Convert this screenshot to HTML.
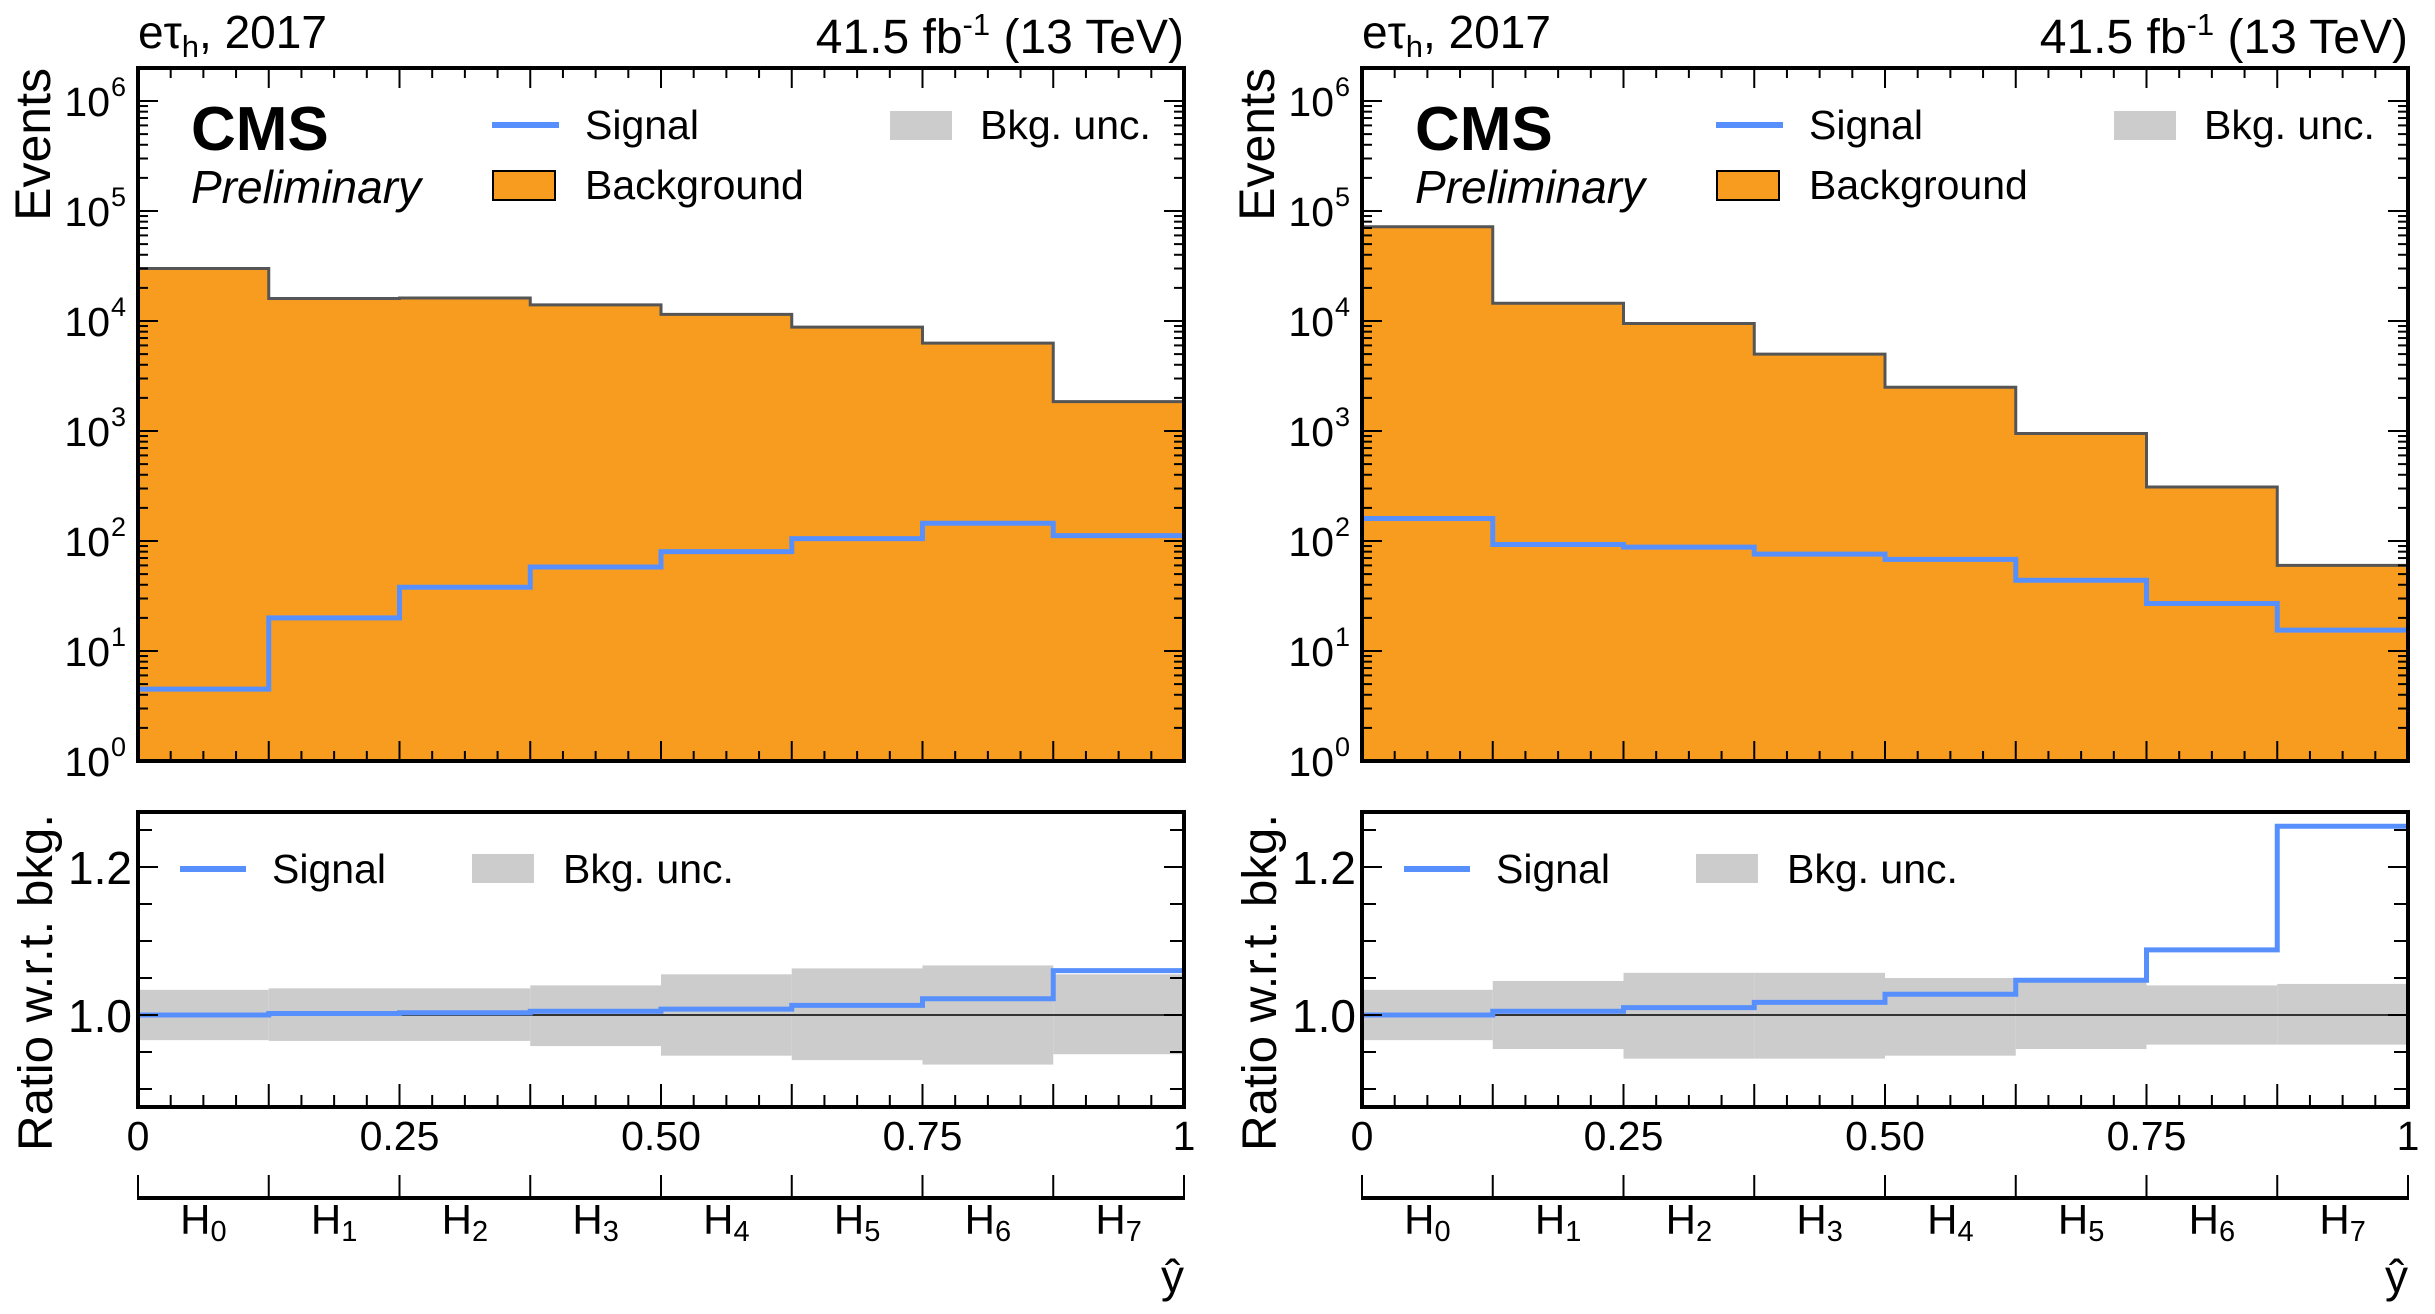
<!DOCTYPE html>
<html><head><meta charset="utf-8">
<style>
html,body{margin:0;padding:0;background:#fff;}
svg{display:block;font-family:"Liberation Sans",Arial,sans-serif;}
</style></head>
<body>
<svg id="fig" width="2435" height="1314" viewBox="0 0 2435 1314" xmlns="http://www.w3.org/2000/svg"></svg>
<script>
// ---- data ----
const binLabels = ["H0","H1","H2","H3","H4","H5","H6","H7"];
const xTickLabels = ["0","0.25","0.50","0.75","1"];
const xTickValues = [0,0.25,0.5,0.75,1];
const logTickExps = [0,1,2,3,4,5,6];
const ratioTickLabels = ["1.0","1.2"];
const ratioTickValues = [1.0,1.2];
const bkgLeft = [30000,16000,16200,14000,11500,8800,6300,1850];
const sigLeft = [4.5,20,38,58,80,105,145,112];
const bkgRight = [72000,14500,9500,5000,2500,950,310,60];
const sigRight = [160,93,88,76,68,44,27,15.5];
const ratioSigLeft = [1.0,1.002,1.003,1.005,1.008,1.013,1.022,1.06];
const uncUpLeft = [0.034,0.036,0.036,0.04,0.055,0.063,0.067,0.055];
const uncDnLeft = [0.034,0.035,0.035,0.042,0.055,0.061,0.067,0.053];
const ratioSigRight = [1.0,1.005,1.01,1.017,1.028,1.047,1.088,1.255];
const uncUpRight = [0.034,0.046,0.057,0.057,0.05,0.044,0.04,0.042];
const uncDnRight = [0.034,0.046,0.059,0.059,0.055,0.046,0.04,0.04];

const NS="http://www.w3.org/2000/svg";
const svg=document.getElementById('fig');
function mk(tag,attrs,parent){const e=document.createElementNS(NS,tag);for(const k in attrs)e.setAttribute(k,attrs[k]);(parent||svg).appendChild(e);return e;}

const TOP=68, BOT=761, RTOP=812, RBOT=1107, W=1046;
const yLog=v=>BOT-110*Math.log10(v);
const yR=v=>1015-(v-1)*740;

function panel(x0, bkg, sig, rsig, up, dn, side){
  const xs=t=>x0+t*W;
  const nb=bkg.length, bw=W/nb;
  const g=mk('g',{});
  
  
  const t1=mk('text',{x:x0,y:48,'font-size':46},g);
  
  
  t1.innerHTML='eτ<tspan font-size="31" dy="9">h</tspan><tspan dy="-9">, 2017</tspan>';
  const t2=mk('text',{x:x0+W,y:53,'font-size':48,'text-anchor':'end'},g);
  
  
  t2.innerHTML='41.5 fb<tspan font-size="31" dy="-18">-1</tspan><tspan dy="18"> (13 TeV)</tspan>';
  let d=`M${x0},${BOT}`;
  for(let i=0;i<nb;i++){d+=` L${x0+i*bw},${yLog(bkg[i])} L${x0+(i+1)*bw},${yLog(bkg[i])}`;}
  d+=` L${x0+W},${BOT} Z`;
  const bp=mk('path',{d:d,fill:'#f89c20',stroke:'none'},g);
  
  
  let od='';
  for(let i=0;i<nb;i++){od+=(i?' L':'M')+`${x0+i*bw},${yLog(bkg[i])} L${x0+(i+1)*bw},${yLog(bkg[i])}`;}
  const ol=mk('path',{d:od,fill:'none',stroke:'#555',"stroke-width":3},g);
  
  
  let sd='';
  for(let i=0;i<nb;i++){sd+=(i?' L':'M')+`${x0+i*bw},${yLog(sig[i])} L${x0+(i+1)*bw},${yLog(sig[i])}`;}
  const sp=mk('path',{d:sd,fill:'none',stroke:'#5790fc',"stroke-width":5},g);
  
  
  for(const e of logTickExps){
    for(let m=1;m<10;m++){
      const v=m*Math.pow(10,e); const y=yLog(v);
      if(y<TOP+1||y>BOT) continue;
      const L=m===1?20:10;
      mk('line',{x1:x0,x2:x0+L,y1:y,y2:y,stroke:'#000','stroke-width':2},g);
      mk('line',{x1:x0+W-L,x2:x0+W,y1:y,y2:y,stroke:'#000','stroke-width':2},g);
    }
    const lab=mk('text',{x:x0-28,y:yLog(Math.pow(10,e))+15,'font-size':41,'text-anchor':'end'},g);
    
    
    lab.textContent='10';
    const sup=mk('text',{x:x0-27,y:yLog(Math.pow(10,e))-5,'font-size':27},g);
    sup.textContent=String(e);
  }
  for(let k=0;k<=32;k++){
    const x=xs(k/32); const major=k%4===0; const L=major?20:10;
    mk('line',{x1:x,x2:x,y1:TOP,y2:TOP+L,stroke:'#000','stroke-width':2},g);
    mk('line',{x1:x,x2:x,y1:BOT-L,y2:BOT,stroke:'#000','stroke-width':2},g);
    const L2=major?23:12;
    mk('line',{x1:x,x2:x,y1:RBOT-L2,y2:RBOT,stroke:'#000','stroke-width':2},g);
  }
  const fr=mk('rect',{x:x0,y:TOP,width:W,height:BOT-TOP,fill:'none',stroke:'#000','stroke-width':4},g);
  
  
  const cms=mk('text',{x:x0+53,y:150,'font-size':62,'font-weight':'bold'},g);
  
  
  cms.textContent='CMS';
  const pre=mk('text',{x:x0+53,y:203,'font-size':46,'font-style':'italic'},g);
  
  
  pre.textContent='Preliminary';
  mk('line',{x1:x0+354,x2:x0+421,y1:125,y2:125,stroke:'#5790fc','stroke-width':6},g);
  const ls=mk('text',{x:x0+447,y:139,'font-size':41},g);
  
  
  ls.textContent='Signal';
  mk('rect',{x:x0+355,y:171,width:62,height:29,fill:'#f89c20',stroke:'#000','stroke-width':2},g);
  const lb=mk('text',{x:x0+447,y:199,'font-size':41},g);
  
  
  lb.textContent='Background';
  mk('rect',{x:x0+752,y:111,width:62,height:29,fill:'#cccccc'},g);
  const lu=mk('text',{x:x0+842,y:139,'font-size':41},g);
  
  
  lu.textContent='Bkg. unc.';
  const ev=mk('text',{transform:`translate(${x0-88},${TOP}) rotate(-90)`,'font-size':50,'text-anchor':'end'},g);
  
  
  ev.textContent='Events';

  for(let i=0;i<nb;i++){
    const r=mk('rect',{x:x0+i*bw,y:yR(1+up[i]),width:bw,height:yR(1-dn[i])-yR(1+up[i]),fill:'#cccccc'},g);
    
    
  }
  mk('line',{x1:x0,x2:x0+W,y1:yR(1),y2:yR(1),stroke:'#000','stroke-width':1.5},g);
  let rd='';
  for(let i=0;i<nb;i++){rd+=(i?' L':'M')+`${x0+i*bw},${yR(rsig[i])} L${x0+(i+1)*bw},${yR(rsig[i])}`;}
  const rp=mk('path',{d:rd,fill:'none',stroke:'#5790fc',"stroke-width":5},g);
  
  
  for(let k=0;k<=7;k++){
    const v=0.9+k*0.05; const y=yR(v);
    if(y<RTOP||y>RBOT) continue;
    const L=(Math.abs(v-1)<1e-6||Math.abs(v-1.2)<1e-6)?20:14;
    mk('line',{x1:x0,x2:x0+L,y1:y,y2:y,stroke:'#000','stroke-width':2},g);
    mk('line',{x1:x0+W-L,x2:x0+W,y1:y,y2:y,stroke:'#000','stroke-width':2},g);
  }
  ratioTickValues.forEach((v,i)=>{
    const t=mk('text',{x:x0-6,y:yR(v)+17,'font-size':46,'text-anchor':'end'},g);
    
    
    t.textContent=ratioTickLabels[i];
  });
  const rf=mk('rect',{x:x0,y:RTOP,width:W,height:RBOT-RTOP,fill:'none',stroke:'#000','stroke-width':4},g);
  
  
  mk('line',{x1:x0+42,x2:x0+108,y1:869,y2:869,stroke:'#5790fc','stroke-width':6},g);
  const rl1=mk('text',{x:x0+134,y:883,'font-size':41},g);
  
  
  rl1.textContent='Signal';
  mk('rect',{x:x0+334,y:854,width:62,height:29,fill:'#cccccc'},g);
  const rl2=mk('text',{x:x0+425,y:883,'font-size':41},g);
  
  
  rl2.textContent='Bkg. unc.';
  const ry=mk('text',{transform:`translate(${x0-86},${RTOP+2}) rotate(-90)`,'font-size':48,'text-anchor':'end',textLength:337,lengthAdjust:'spacingAndGlyphs'},g);
  
  
  ry.textContent='Ratio w.r.t. bkg.';
  xTickValues.forEach((v,i)=>{
    const t=mk('text',{x:xs(v),y:1150,'font-size':41,'text-anchor':'middle'},g);
    
    
    t.textContent=xTickLabels[i];
  });
  mk('line',{x1:x0-1,x2:x0+W+1,y1:1198,y2:1198,stroke:'#000','stroke-width':4},g);
  for(let i=0;i<=nb;i++){
    mk('line',{x1:x0+i*bw,x2:x0+i*bw,y1:1175,y2:1198,stroke:'#000','stroke-width':2},g);
  }
  binLabels.forEach((lab,i)=>{
    const t=mk('text',{x:x0+(i+0.5)*bw,y:1234,'font-size':42,'text-anchor':'middle'},g);
    
    
    t.innerHTML='H<tspan font-size="29" dy="7">'+lab.slice(1)+'</tspan>';
  });
  const yh=mk('text',{x:x0+W,y:1292,'font-size':46,'text-anchor':'end'},g);
  
  
  yh.textContent='ŷ';
}
panel(138,bkgLeft,sigLeft,ratioSigLeft,uncUpLeft,uncDnLeft,'left');
panel(1362,bkgRight,sigRight,ratioSigRight,uncUpRight,uncDnRight,'right');
</script>
</body></html>
